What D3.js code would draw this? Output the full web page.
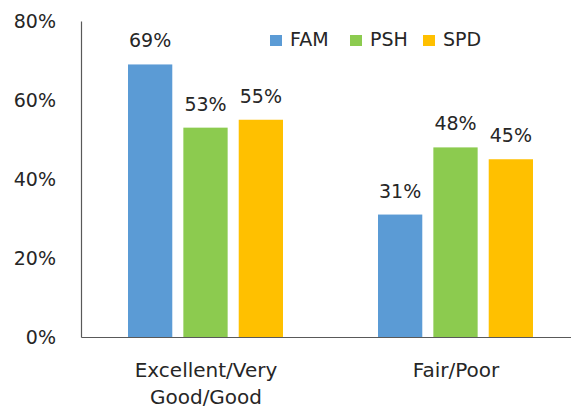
<!DOCTYPE html>
<html>
<head>
<meta charset="utf-8">
<script src="https://cdn.jsdelivr.net/npm/d3@7"></script>
<style>
  html, body { margin: 0; padding: 0; background: #fff; }
  svg { display: block; }
  text { font-family: "DejaVu Sans", sans-serif; fill: #262626; }
</style>
</head>
<body>
<svg id="chart" width="571" height="410"></svg>
<script>
const categories = ["Excellent/Very Good/Good", "Fair/Poor"];
const seriesNames = ["FAM", "PSH", "SPD"];
const FAM = [0.69, 0.31];
const PSH = [0.53, 0.48];
const SPD = [0.55, 0.45];
const yTicks = [0, 0.2, 0.4, 0.6, 0.8];
const colors = ["#5B9BD5", "#8CCB4F", "#FFC000"];

const seriesValues = [FAM, PSH, SPD];
const data = categories.map((c, i) => ({
  category: c,
  values: seriesNames.map((s, j) => ({ series: s, value: seriesValues[j][i] }))
}));

const svg = d3.select("#chart");
const mLeft = 81, mRight = 581, mTop = 21, mBottom = 337;

const x0 = d3.scaleBand().domain(categories).range([mLeft, mRight]).paddingInner(0).paddingOuter(0);
const x1 = d3.scaleBand().domain(seriesNames).range([47, 202]).paddingInner(0.2).paddingOuter(0);
const y = d3.scaleLinear().domain([0, 0.8]).range([mBottom, mTop]);
const color = d3.scaleOrdinal().domain(seriesNames).range(colors);

// bars
const groups = svg.append("g").selectAll("g").data(data).join("g")
  .attr("transform", d => `translate(${x0(d.category)},0)`);

groups.selectAll("rect").data(d => d.values).join("rect")
  .attr("x", d => x1(d.series))
  .attr("width", x1.bandwidth())
  .attr("y", d => y(d.value))
  .attr("height", d => y(0) - y(d.value))
  .attr("fill", d => color(d.series));

groups.selectAll("text.lbl").data(d => d.values).join("text")
  .attr("class", "lbl")
  .attr("x", d => x1(d.series) + x1.bandwidth() / 2)
  .attr("y", d => y(d.value) - 17)
  .attr("text-anchor", "middle")
  .attr("font-size", 19)
  .text(d => d3.format(".0%")(d.value));

// y axis
const yAxis = svg.append("g").attr("transform", `translate(${mLeft},0)`)
  .call(d3.axisLeft(y).tickValues(yTicks).tickFormat(d3.format(".0%")).tickSize(0).tickPadding(25));
yAxis.select(".domain").attr("stroke", "#595959").attr("stroke-width", 1.2);
yAxis.selectAll("text").attr("font-size", 19).attr("font-family", "DejaVu Sans, sans-serif").attr("fill", "#262626");

// x axis
const xAxis = svg.append("g").attr("transform", `translate(0,${mBottom})`)
  .call(d3.axisBottom(x0).tickSize(0).tickSizeOuter(0));
xAxis.select(".domain").attr("stroke", "#595959").attr("stroke-width", 1.2);
xAxis.selectAll(".tick text").each(function(d) {
  const t = d3.select(this);
  t.text(null).attr("dy", null).attr("y", 0)
    .attr("font-size", 20).attr("font-family", "DejaVu Sans, sans-serif").attr("fill", "#262626");
  d.split(" ").forEach((w, i) => {
    t.append("tspan").attr("x", 0).attr("y", 40 + i * 27).text(w);
  });
});

// legend
const legendX = [270, 350, 423];
const legend = svg.append("g").selectAll("g").data(seriesNames).join("g")
  .attr("transform", (d, i) => `translate(${legendX[i]},35)`);
legend.append("rect").attr("width", 12).attr("height", 11).attr("fill", d => color(d));
legend.append("text").attr("x", 20).attr("y", 11).attr("font-size", 19).text(d => d);
</script>
</body>
</html>
